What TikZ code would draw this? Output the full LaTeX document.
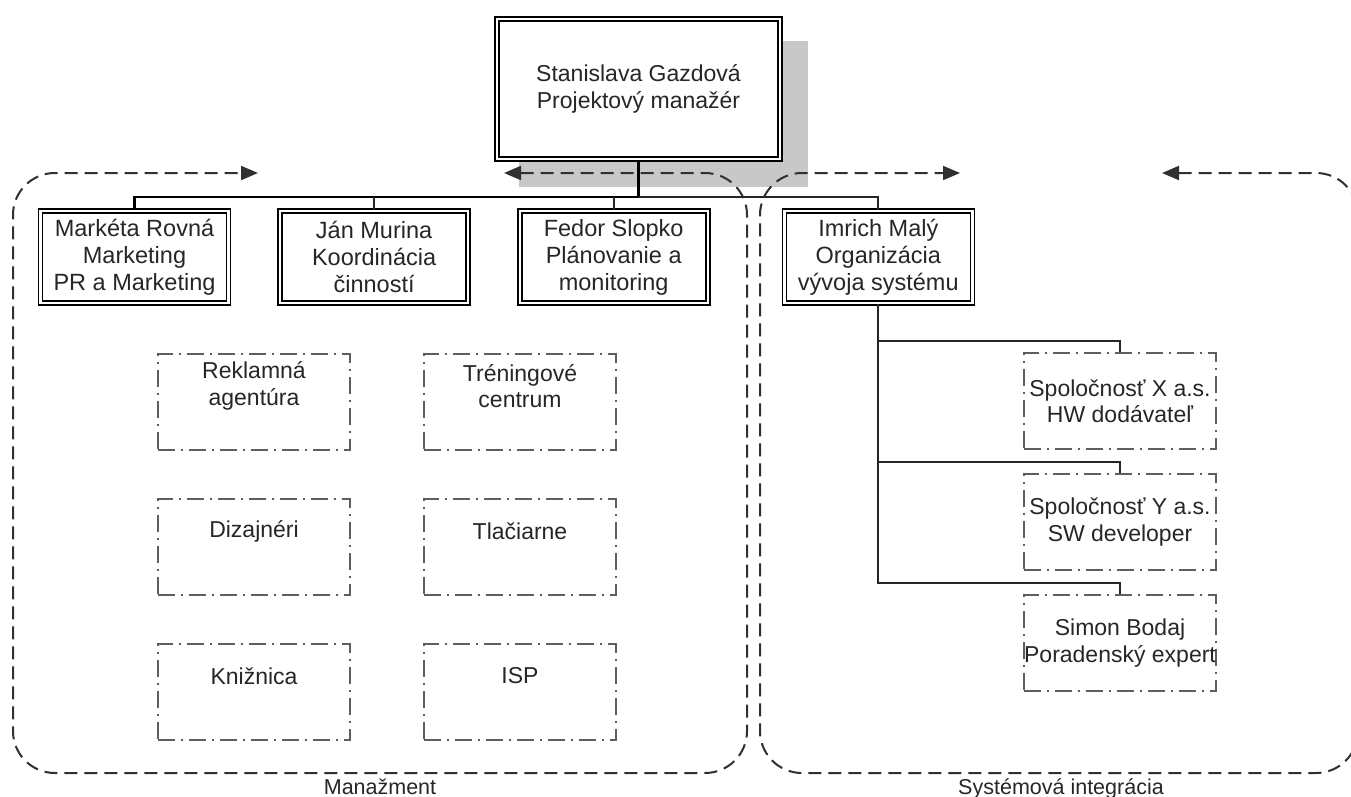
\documentclass[tikz,border=0pt]{standalone}
\usepackage{fontspec}
\setmainfont{Liberation Sans}
\usetikzlibrary{arrows.meta,positioning,shadows}
\definecolor{txt}{HTML}{262626}
\definecolor{shadowgray}{HTML}{C8C8C8}
\definecolor{frame}{HTML}{303030}
\definecolor{subline}{HTML}{5E5E5E}

\begin{document}
\begin{tikzpicture}[x=1pt, y=-1pt,
  font=\fontsize{23}{26.5}\selectfont, text=txt,
  boss/.style={draw=black, fill=white, double, double distance=2.4pt, line width=1.6pt, minimum width=283pt, minimum height=140pt, align=center,
    general shadow={fill=shadowgray, draw=shadowgray, line width=5.6pt, shadow xshift=25pt, shadow yshift=-25pt}},
  lead/.style={draw=black, double, double distance=2.4pt, line width=1.6pt, minimum width=188pt, minimum height=92pt, inner sep=2pt, align=center, font=\fontsize{23.5}{27}\selectfont},
  partner/.style={draw=subline, line width=2pt, dash pattern=on 17pt off 6pt on 2pt off 6pt, minimum width=192pt, minimum height=96pt, inner xsep=0pt, align=center},
  partnertxt/.style={align=center, yshift=15.5pt},
  grp/.style={draw=frame, line width=2pt, dash pattern=on 13pt off 7pt, rounded corners=42pt},
  grptips/.style={arrows={Triangle[length=17pt,width=14pt]-Triangle[length=17pt,width=14pt]}},
  grplabel/.style={anchor=base, font=\fontsize{21.5}{24}\selectfont},
  busline/.style={draw=black, line width=2.8pt},
  conn/.style={draw=black!85, line width=1.8pt}]
\useasboundingbox (0,0) rectangle (1351,797);

% projektovy manazer
\node[boss] (sg) at (638.5,89) {Stanislava Gazdová\\Projektový manažér};

% skupiny
\draw[grp, grptips] (504,173) -- (747,173) -- (747,773) -- (13,773) -- (13,173) -- (258,173);
\draw[grp, grptips] (1162,173) -- (1358,173) -- (1358,773) -- (760,773) -- (760,173) -- (960,173);
\node[grplabel] (gman) at (380,794) {Manažment};
\node[grplabel] (gsys) at (1061,794) {Systémová integrácia};

% veduci
\node[lead] (mr) at (134.5,257) {Markéta Rovná\\Marketing\\PR a Marketing};
\node[lead, right=50pt of mr] (jm) {Ján Murina\\Koordinácia\\činností};
\node[lead, right=50pt of jm] (fs) {Fedor Slopko\\Plánovanie a\\monitoring};
\node[lead, right=75pt of fs] (im) {Imrich Malý\\Organizácia\\vývoja systému};

% partneri manazmentu
\node[partner, label={[partnertxt, name=ra-t]center:Reklamná\\agentúra}] (ra) at (254,401.5) {};
\node[partner, right=72pt of ra, label={[partnertxt, name=tc-t]center:Tréningové\\centrum}] (tc) {};
\node[partner, below=47pt of ra, label={[partnertxt, name=dz-t]center:Dizajnéri}] (dz) {};
\node[partner, below=47pt of tc, label={[partnertxt, name=tl-t]center:Tlačiarne}] (tl) {};
\node[partner, below=47pt of dz, label={[partnertxt, name=kn-t]center:Knižnica}] (kn) {};
\node[partner, below=47pt of tl, label={[partnertxt, name=isp-t]center:ISP}] (isp) {};

% dodavatelia
\node[partner] (sx) at (1120,401) {Spoločnosť X a.s.\\HW dodávateľ};
\node[partner, below=23pt of sx] (sy) {Spoločnosť Y a.s.\\SW developer};
\node[partner, below=23pt of sy] (sb) {Simon Bodaj\\Poradenský expert};

% spojenia
\coordinate (bus) at (638.5,197);
\draw[busline] (sg.south) -- (bus) -| (mr.north);
\draw[conn] (bus) -| (im.north);
\draw[conn] (jm.north) -- (jm.north |- bus);
\draw[conn] (fs.north) -- (fs.north |- bus);
\foreach \f in {sx,sy,sb}
  \draw[conn] (im.south) |- ([yshift=11pt]\f.north) -- (\f.north);
\end{tikzpicture}
\end{document}
